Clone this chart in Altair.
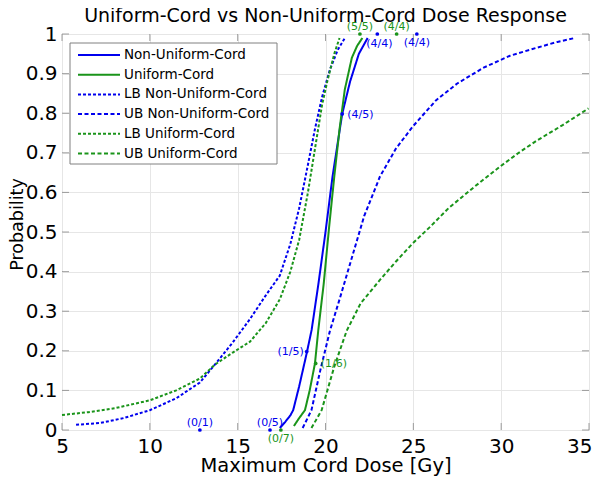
import altair as alt
import pandas as pd

# ---- curves ----
nu_dose = [17.4, 17.7, 18.0, 18.16, 18.5, 18.93, 19.21, 19.6, 20.0, 20.4, 20.95, 21.4, 21.9, 22.4]
nu_prob = [0.005, 0.02, 0.037, 0.05, 0.11, 0.194, 0.2525, 0.37, 0.5, 0.64, 0.798, 0.88, 0.95, 0.99]

u_dose = [18.2, 18.5, 18.83, 19.1, 19.4, 19.59, 19.9, 20.2, 20.5, 20.8, 21.1, 21.5, 21.8, 22.1]
u_prob = [0.01, 0.03, 0.05, 0.1, 0.168, 0.2525, 0.37, 0.51, 0.64, 0.76, 0.86, 0.94, 0.97, 0.99]

lb_nu_dose = [5.8, 7.2, 8.5, 10.0, 11.5, 12.85, 13.7, 14.7, 15.7, 16.6, 17.4, 18.0, 18.5, 19.0, 19.4, 19.8, 20.25, 20.7, 21.1]
lb_nu_prob = [0.013, 0.018, 0.03, 0.05, 0.08, 0.12, 0.165, 0.22, 0.28, 0.34, 0.39, 0.47, 0.56, 0.67, 0.76, 0.84, 0.91, 0.96, 0.99]

ub_nu_dose = [18.7, 19.2, 19.7, 20.25, 20.8, 21.4, 22.2, 23.1, 24.0, 24.96, 26.3, 27.5, 29.0, 30.5, 32.0, 33.2, 34.2]
ub_nu_prob = [0.005, 0.05, 0.15, 0.25, 0.33, 0.42, 0.54, 0.64, 0.71, 0.766, 0.833, 0.875, 0.915, 0.945, 0.965, 0.98, 0.99]

lb_u_dose = [5.0, 6.5, 8.0, 10.0, 11.5, 12.85, 13.7, 14.7, 15.7, 16.6, 17.4, 18.0, 18.5, 19.0, 19.4, 19.8, 20.1, 20.5, 20.8]
lb_u_prob = [0.038, 0.045, 0.055, 0.075, 0.1, 0.13, 0.165, 0.195, 0.223, 0.27, 0.33, 0.40, 0.48, 0.6, 0.71, 0.82, 0.88, 0.95, 0.99]

ub_u_dose = [19.2, 19.78, 20.5, 21.2, 22.0, 23.1, 24.0, 24.96, 26.0, 27.0, 28.5, 29.93, 31.0, 32.0, 33.5, 34.97]
ub_u_prob = [0.005, 0.05, 0.16, 0.25, 0.32, 0.379, 0.425, 0.471, 0.515, 0.56, 0.615, 0.665, 0.70, 0.73, 0.77, 0.812]

series_names = ["Non-Uniform-Cord", "Uniform-Cord", "LB Non-Uniform-Cord",
                "UB Non-Uniform-Cord", "LB Uniform-Cord", "UB Uniform-Cord"]
series_colors = ["#0000ee", "#1a941a", "#0000ee", "#0000ee", "#1a941a", "#1a941a"]
series_dashes = [[1, 0], [1, 0], [3, 2], [4, 2.5], [3, 2], [4, 2.5]]
series_widths = [2, 2, 1.4, 1.5, 1.4, 1.5]

# ---- observed data labels ----
obs_dose = [12.85, 16.84, 17.46, 18.93, 19.44, 20.95, 21.96, 24.05, 22.95, 25.2]
obs_prob = [0.0, 0.0, 0.0, 0.198, 0.168, 0.798, 1.0, 1.0, 1.0, 1.0]
obs_text = ["(0/1)", "(0/5)", "(0/7)", "(1/5)", "(1/6)", "(4/5)", "(5/5)", "(4/4)", "(4/4)", "(4/4)"]
obs_group = ["Non-Uniform-Cord", "Non-Uniform-Cord", "Uniform-Cord", "Non-Uniform-Cord", "Uniform-Cord",
             "Non-Uniform-Cord", "Uniform-Cord", "Uniform-Cord", "Non-Uniform-Cord", "Non-Uniform-Cord"]
obs_place = ["above", "above", "below", "left", "right", "right", "above", "above", "belowright", "below"]

x_ticks = [5, 10, 15, 20, 25, 30, 35]
y_ticks = [0, 0.1, 0.2, 0.3, 0.4, 0.5, 0.6, 0.7, 0.8, 0.9, 1.0]

TITLE = "Uniform-Cord vs Non-Uniform-Cord Dose Response"
X_TITLE = "Maximum Cord Dose [Gy]"
Y_TITLE = "Probability"

W, H = 527, 396
FONT = "DejaVu Sans"

curves = [
    (series_names[0], nu_dose, nu_prob),
    (series_names[1], u_dose, u_prob),
    (series_names[2], lb_nu_dose, lb_nu_prob),
    (series_names[3], ub_nu_dose, ub_nu_prob),
    (series_names[4], lb_u_dose, lb_u_prob),
    (series_names[5], ub_u_dose, ub_u_prob),
]
rows = []
for name, ds, ps in curves:
    for i, (d, p) in enumerate(zip(ds, ps)):
        rows.append({"series": name, "dose": d, "prob": p, "i": i})
df = pd.DataFrame(rows)

obs = pd.DataFrame({"dose": obs_dose, "prob": obs_prob, "text": obs_text,
                    "group": obs_group, "place": obs_place})

xs = alt.Scale(domain=[5, 35], nice=False, zero=False)
ys = alt.Scale(domain=[0, 1], nice=False, zero=False)
cscale = alt.Scale(domain=series_names, range=series_colors)
dscale = alt.Scale(domain=series_names, range=series_dashes)
wscale = alt.Scale(domain=series_names, range=series_widths)

last_x = x_ticks[-1]
x_axis = alt.Axis(values=x_ticks, title=X_TITLE, labelFontSize=20, titleFontSize=19.5,
                  labelFont=FONT, titleFont=FONT, labelColor="black", titleColor="black",
                  titleFontWeight="normal", ticks=False, domain=False, grid=True,
                  gridColor="#e6e6e6", labelPadding=6, titleBaseline="alphabetic", titleY=41.5,
                  labelFlush=False, labelOverlap=False,
                  labelAlign={"condition": {"test": f"datum.value == {last_x}", "value": "right"},
                              "value": "center"},
                  labelOffset={"condition": {"test": f"datum.value == {last_x}", "value": 3},
                               "value": 0})
y_axis = alt.Axis(values=y_ticks, title=Y_TITLE, format=".1~f", labelFontSize=20, titleFontSize=17.5,
                  labelFont=FONT, titleFont=FONT, labelColor="black", titleColor="black",
                  titleFontWeight="normal", ticks=False, domain=False, grid=True,
                  gridColor="#e6e6e6", labelPadding=5, titleX=-36, titleY=190,
                  labelFlush=False, labelOverlap=False)


def X(field):
    return alt.X(field, scale=xs, axis=x_axis)


def Y(field):
    return alt.Y(field, scale=ys, axis=y_axis)


lines = alt.Chart(df).mark_line(clip=False).encode(
    x=X("dose:Q"), y=Y("prob:Q"),
    color=alt.Color("series:N", scale=cscale, legend=None),
    strokeDash=alt.StrokeDash("series:N", scale=dscale, legend=None),
    strokeWidth=alt.StrokeWidth("series:N", scale=wscale, legend=None),
    order="i:Q",
)

dots = alt.Chart(obs).mark_circle(size=14, opacity=1).encode(
    x=X("dose:Q"), y=Y("prob:Q"),
    color=alt.Color("group:N", scale=cscale, legend=None),
)

place_style = {
    "above": dict(align="center", dx=0, dy=-7.5),
    "below": dict(align="center", dx=0, dy=9),
    "left": dict(align="right", dx=-3, dy=0),
    "right": dict(align="left", dx=5, dy=1),
    "belowright": dict(align="center", dx=2, dy=10),
}
text_layers = []
for pl, st in place_style.items():
    text_layers.append(
        alt.Chart(obs).transform_filter(alt.datum.place == pl).mark_text(
            font=FONT, fontSize=11, baseline="middle", **st
        ).encode(
            x=X("dose:Q"), y=Y("prob:Q"),
            text="text:N", color=alt.Color("group:N", scale=cscale, legend=None),
        )
    )

# inward ticks on all four sides (MATLAB box style)
xt = pd.DataFrame({"v": x_ticks})
yt = pd.DataFrame({"v": y_ticks})
tick_col = "#777777"
xt_bot = alt.Chart(xt).mark_tick(color=tick_col, size=7, thickness=1).encode(
    x=X("v:Q"), y=alt.value(H - 3.5))
xt_top = alt.Chart(xt).mark_tick(color=tick_col, size=7, thickness=1).encode(
    x=X("v:Q"), y=alt.value(3.5))
yt_left = alt.Chart(yt).mark_tick(color=tick_col, size=7, thickness=1).encode(
    y=Y("v:Q"), x=alt.value(3.5))
yt_right = alt.Chart(yt).mark_tick(color=tick_col, size=7, thickness=1).encode(
    y=Y("v:Q"), x=alt.value(W - 3.5))

# chart title as a text mark above the plot
title_df = pd.DataFrame({"t": [TITLE]})
title_mark = alt.Chart(title_df).mark_text(
    font=FONT, fontSize=19, color="black", align="center", baseline="alphabetic"
).encode(x=alt.value(W / 2), y=alt.value(-12), text="t:N")

# legend box drawn by hand
leg = pd.DataFrame({"series": series_names, "k": list(range(len(series_names)))})
leg_box = alt.Chart(pd.DataFrame({"a": [0]})).mark_rect(
    fill="white", stroke="#808080", strokeWidth=1
).encode(x=alt.value(8), x2=alt.value(215), y=alt.value(9), y2=alt.value(130))
leg_lines = alt.Chart(leg).transform_calculate(ly="21 + datum.k * 19.7").mark_rule().encode(
    x=alt.value(16), x2=alt.value(58), y=alt.Y("ly:Q", scale=None, axis=None),
    color=alt.Color("series:N", scale=cscale, legend=None),
    strokeDash=alt.StrokeDash("series:N", scale=dscale, legend=None),
    strokeWidth=alt.StrokeWidth("series:N", scale=wscale, legend=None),
)
leg_text = alt.Chart(leg).transform_calculate(ly="21 + datum.k * 19.7").mark_text(
    align="left", baseline="middle", font=FONT, fontSize=13.5, color="black"
).encode(x=alt.value(62), y=alt.Y("ly:Q", scale=None, axis=None), text="series:N")

chart = alt.layer(
    lines, xt_bot, xt_top, yt_left, yt_right, dots, *text_layers, title_mark,
    leg_box, leg_lines, leg_text
).properties(
    width=W, height=H,
    autosize=alt.AutoSizeParams(type="none"),
    padding={"left": 54, "top": 26, "right": 3, "bottom": 46},
).configure_view(stroke="#7f7f7f", strokeWidth=1).configure(background="white")

chart.save("out.html", embed_options={"renderer": "svg", "actions": False})
